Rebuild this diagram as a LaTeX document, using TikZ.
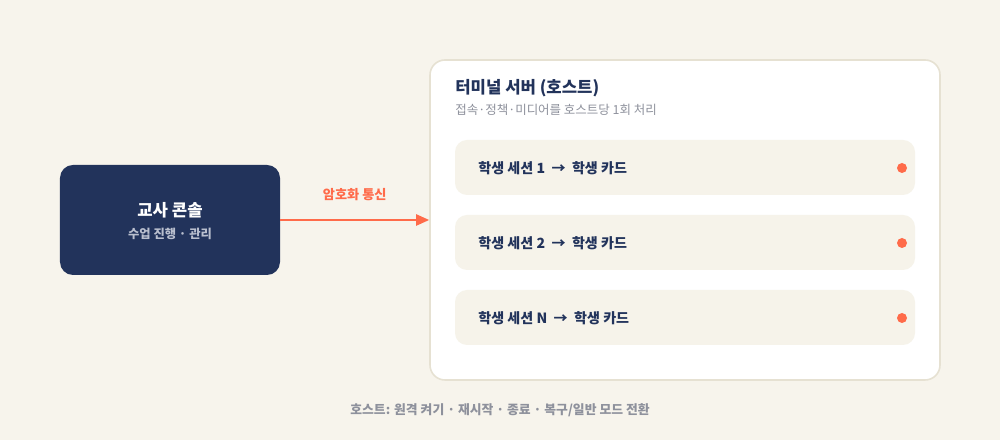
\documentclass[tikz,border=0pt]{standalone}
\usepackage{fontspec}
\setmainfont{Noto Sans CJK KR}
\usetikzlibrary{arrows.meta}
\definecolor{bgcream}{HTML}{F7F4EC}
\definecolor{navy}{HTML}{22335B}
\definecolor{accent}{HTML}{FF6B4A}
\definecolor{rowfill}{HTML}{F6F3EA}
\definecolor{greytext}{HTML}{8E919C}
\definecolor{hostline}{HTML}{E6E1D2}
\definecolor{subtext}{HTML}{B9BFCE}
\tikzset{
    rowbox/.style={fill=rowfill, rounded corners=2.4mm},
    rowtext/.style={font=\fontsize{8}{10}\selectfont\bfseries, text=navy, anchor=west},
    statedot/.style={circle, fill=accent, inner sep=0pt, minimum size=2mm}
}
\begin{document}
\begin{tikzpicture}[x=0.2mm, y=-0.2mm]

    % background
    \fill[bgcream] (0,0) rectangle (1000,440);
    \useasboundingbox (0,0) rectangle (1000,440);

    % teacher console
    \node[fill=navy, rounded corners=2.6mm, minimum width=44mm, minimum height=22mm, inner sep=0pt] (console) at (170,220) {};
    \node[font=\fontsize{9.5}{11}\selectfont\bfseries, text=white] (consoletitle) at (170,210) {교사 콘솔};
    \node[font=\fontsize{7}{9}\selectfont\bfseries, text=subtext] (consolesub) at (170,234) {수업 진행 · 관리};

    % terminal server (host)
    \node[fill=white, draw=hostline, line width=0.9pt, rounded corners=3mm, minimum width=102mm, minimum height=64mm, inner sep=0pt] (host) at (685,220) {};
    \node[font=\fontsize{9.5}{11}\selectfont\bfseries, text=navy, anchor=west, inner sep=0pt] (hosttitle) at (455,88) {터미널 서버 (호스트)};
    \node[font=\fontsize{7.1}{9}\selectfont, text=greytext, anchor=west, inner sep=0pt] (hostsub) at (455,110) {접속·정책·미디어를 호스트당 1회 처리};

    % student sessions
    \foreach \y/\n in {168/1, 243/2, 318/N} {
        \fill[rowbox] (455,\y-28) rectangle (915,\y+27);
        \node[rowtext, inner sep=0pt] (session\n) at (478,\y) {학생 세션 \n\ \ →\ \ 학생 카드};
        \node[statedot] (dot\n) at (902,\y) {};
    }

    % encrypted link
    \draw[accent, line width=1.3pt, -{Triangle[length=2.6mm, width=2.2mm]}] (console.east) -- (host.west)
        node[midway, above=2.5mm, font=\fontsize{7.5}{9}\selectfont\bfseries, text=accent] {암호화 통신};

    % host controls
    \node[font=\fontsize{7.3}{9}\selectfont\bfseries, text=greytext] (controls) at (500,410) {호스트: 원격 켜기 · 재시작 · 종료 · 복구/일반 모드 전환};

\end{tikzpicture}
\end{document}
